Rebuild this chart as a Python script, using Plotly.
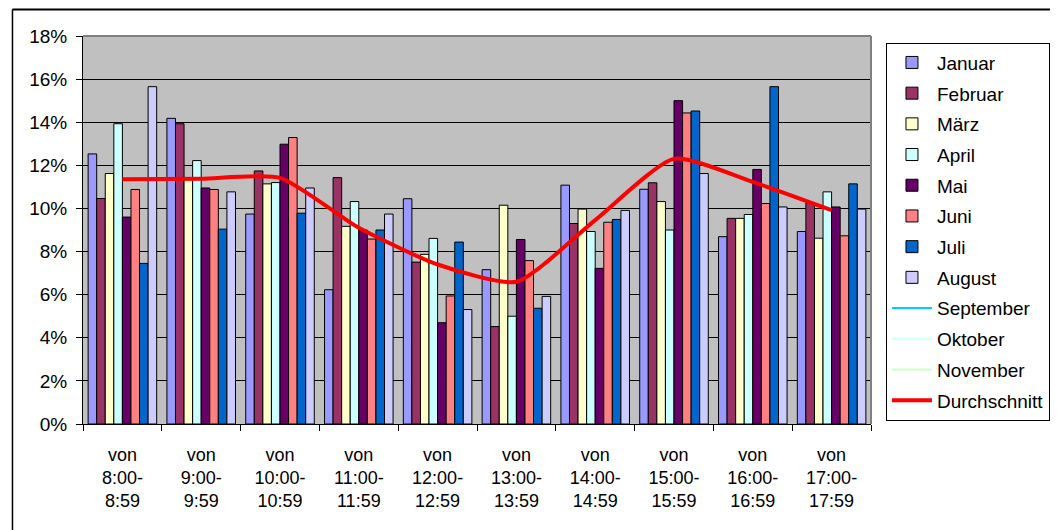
import plotly.graph_objects as go

categories = ["von<br>8:00-<br>8:59", "von<br>9:00-<br>9:59", "von<br>10:00-<br>10:59",
              "von<br>11:00-<br>11:59", "von<br>12:00-<br>12:59", "von<br>13:00-<br>13:59",
              "von<br>14:00-<br>14:59", "von<br>15:00-<br>15:59", "von<br>16:00-<br>16:59",
              "von<br>17:00-<br>17:59"]

januar  = [12.53, 14.18, 9.74, 6.23, 10.45, 7.16, 11.08, 10.89, 8.69, 8.93]
februar = [10.46, 13.93, 11.74, 11.43, 7.51, 4.52, 9.30, 11.19, 9.54, 10.26]
maerz   = [11.62, 11.40, 11.14, 9.17, 7.87, 10.15, 9.97, 10.32, 9.54, 8.62]
april   = [13.93, 12.22, 11.20, 10.32, 8.61, 5.00, 8.93, 9.00, 9.72, 10.77]
mai     = [9.60, 10.95, 12.98, 9.00, 4.70, 8.56, 7.22, 15.00, 11.81, 10.07]
juni    = [10.88, 10.88, 13.29, 8.58, 5.94, 7.58, 9.36, 14.43, 10.23, 8.73]
juli    = [7.45, 9.04, 9.78, 9.00, 8.44, 5.37, 9.49, 14.52, 15.65, 11.14]
august  = [15.65, 10.77, 10.95, 9.74, 5.31, 5.92, 9.91, 11.62, 10.07, 9.97]
durchschnitt = [11.36, 11.38, 11.42, 9.1, 7.4, 6.6, 9.46, 12.3, 11.23, 9.92]

bar_series = [
    ("Januar", januar, "#9999FF"),
    ("Februar", februar, "#993366"),
    ("März", maerz, "#FFFFCC"),
    ("April", april, "#CCFFFF"),
    ("Mai", mai, "#660066"),
    ("Juni", juni, "#FF8080"),
    ("Juli", juli, "#0066CC"),
    ("August", august, "#CCCCFF"),
]
empty_lines = [("September", "#00CCFF"), ("Oktober", "#CCFFFF"), ("November", "#CCFFCC")]

FONT = "Liberation Sans, Arial, sans-serif"
fig = go.Figure()
for i, (name, vals, col) in enumerate(bar_series):
    fig.add_trace(go.Bar(x=categories, y=[v / 100 for v in vals], name=name,
                         marker=dict(color=col, line=dict(color="#000000", width=1)),
                         legendgroup="g%d" % i))
for j, (name, col) in enumerate(empty_lines):
    fig.add_trace(go.Scatter(x=categories, y=[None] * len(categories), name=name, mode="lines",
                             line=dict(color=col, width=2), legendgroup="l%d" % j,
                             showlegend=True))
fig.add_trace(go.Scatter(x=categories, y=[v / 100 for v in durchschnitt], name="Durchschnitt",
                         mode="lines", line=dict(color="#FF0000", width=4, shape="spline", smoothing=0.6),
                         legendgroup="avg"))

fig.update_layout(
    width=1058, height=530,
    margin=dict(l=75, r=195, t=28, b=114, autoexpand=False),
    paper_bgcolor="white", plot_bgcolor="#C0C0C0",
    barmode="group", bargap=0.13, bargroupgap=0,
    font=dict(family=FONT, size=18, color="black"),
    legend=dict(x=1.019, y=0.983, xanchor="left", yanchor="top",
                bordercolor="black", borderwidth=1, bgcolor="white",
                font=dict(family=FONT, size=19), tracegroupgap=3,
                itemwidth=40, traceorder="grouped"),
    xaxis=dict(showline=True, linecolor="black", linewidth=1, ticks="outside",
               tickson="boundaries", ticklen=6, tickcolor="black",
               tickfont=dict(family=FONT, size=18), showgrid=False,
               ticklabelstandoff=14),
    yaxis=dict(range=[0, 0.18], dtick=0.02, tickformat=".0%", showline=True,
               linecolor="black", linewidth=1, ticks="outside", ticklen=6,
               tickcolor="black", gridcolor="#000000", gridwidth=1,
               tickfont=dict(family=FONT, size=19), zeroline=False,
               ticklabelstandoff=5),
    shapes=[
        dict(type="line", xref="paper", yref="paper", x0=0, x1=1, y0=1, y1=1,
             line=dict(color="#808080", width=2)),
        dict(type="line", xref="paper", yref="paper", x0=1, x1=1, y0=0, y1=1,
             line=dict(color="#808080", width=2)),
        dict(type="line", xref="paper", yref="paper", x0=-0.0895, x1=1.229,
             y0=1.068, y1=1.068, line=dict(color="black", width=2)),
        dict(type="line", xref="paper", yref="paper", x0=-0.0895, x1=-0.0895,
             y0=-0.3, y1=1.068, line=dict(color="black", width=1.5)),
        dict(type="line", xref="paper", yref="paper", x0=1.229, x1=1.229,
             y0=-0.3, y1=1.068, line=dict(color="black", width=2)),
    ],
)

fig.write_html("out.html")
